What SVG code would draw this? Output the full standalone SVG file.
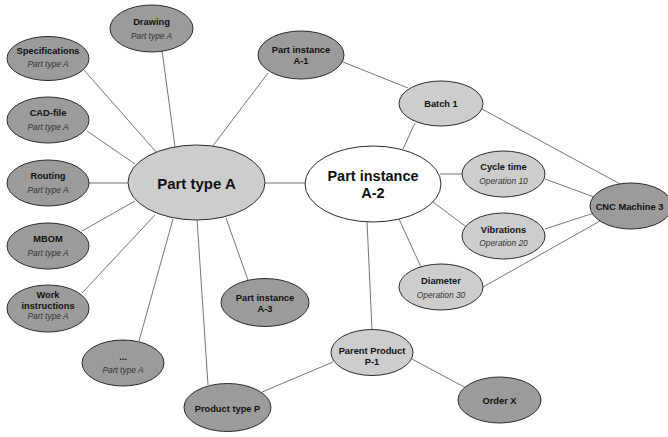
<svg xmlns="http://www.w3.org/2000/svg" width="668" height="437" viewBox="0 0 668 437">
<style>
.n{stroke:#2b2b2b;stroke-width:1}
.d{fill:#9b9b9b}
.l{fill:#cdcdcd}
.w{fill:#ffffff}
.t{font-family:"Liberation Sans",Arial,sans-serif;font-weight:bold;font-size:9.3px;fill:#111;text-anchor:middle}
.s{font-family:"Liberation Sans",Arial,sans-serif;font-style:italic;font-size:8.4px;fill:#333;text-anchor:middle}
.b{font-family:"Liberation Sans",Arial,sans-serif;font-weight:bold;font-size:15px;fill:#111;text-anchor:middle}
#edges line{stroke:#474747;stroke-width:0.75}
</style>
<rect width="668" height="437" fill="#ffffff"/>
<g id="edges">
<line x1="162" y1="50" x2="175" y2="147"/>
<line x1="83" y1="69" x2="157" y2="153"/>
<line x1="87" y1="131" x2="135" y2="164"/>
<line x1="89" y1="183" x2="129" y2="183"/>
<line x1="82" y1="231" x2="135" y2="201"/>
<line x1="82" y1="293" x2="155" y2="215"/>
<line x1="139" y1="341" x2="173" y2="219"/>
<line x1="208" y1="385" x2="197" y2="219"/>
<line x1="248" y1="280" x2="226" y2="218"/>
<line x1="268" y1="73" x2="212" y2="147"/>
<line x1="264" y1="183" x2="306" y2="183"/>
<line x1="343" y1="62" x2="408" y2="88"/>
<line x1="415" y1="123" x2="403" y2="149"/>
<line x1="482" y1="109" x2="620" y2="184"/>
<line x1="440" y1="174" x2="463" y2="174"/>
<line x1="545" y1="179" x2="594" y2="197"/>
<line x1="433" y1="202" x2="465" y2="226"/>
<line x1="545" y1="229" x2="597" y2="212"/>
<line x1="399" y1="219" x2="421" y2="267"/>
<line x1="483" y1="287" x2="600" y2="221"/>
<line x1="367" y1="221" x2="372" y2="330"/>
<line x1="333" y1="362" x2="262" y2="392"/>
<line x1="412" y1="359" x2="466" y2="388"/>
</g>
<g id="drawing"><ellipse class="n d" cx="151.5" cy="28.5" rx="41.5" ry="23.5"/><text class="t" x="151.5" y="25">Drawing</text><text class="s" x="151.5" y="39">Part type A</text></g>
<g id="specifications"><ellipse class="n d" cx="48" cy="58.5" rx="41" ry="22"/><text class="t" x="48" y="54.3">Specifications</text><text class="s" x="48" y="67">Part type A</text></g>
<g id="cad-file"><ellipse class="n d" cx="48" cy="120" rx="41" ry="23"/><text class="t" x="48" y="116.3">CAD-file</text><text class="s" x="48" y="130">Part type A</text></g>
<g id="routing"><ellipse class="n d" cx="48" cy="183" rx="41" ry="23"/><text class="t" x="48" y="179.3">Routing</text><text class="s" x="48" y="193">Part type A</text></g>
<g id="mbom"><ellipse class="n d" cx="48" cy="246" rx="41" ry="23"/><text class="t" x="48" y="242.3">MBOM</text><text class="s" x="48" y="256">Part type A</text></g>
<g id="work-instructions"><ellipse class="n d" cx="48" cy="308.5" rx="41" ry="23.5"/><text class="t" x="48" y="298.3">Work</text><text class="t" x="48" y="309">instructions</text><text class="s" x="48" y="319">Part type A</text></g>
<g id="more"><ellipse class="n d" cx="123" cy="363" rx="41" ry="23"/><text class="t" x="123" y="360">...</text><text class="s" x="123" y="373">Part type A</text></g>
<g id="part-type-a"><ellipse class="n l" cx="196.5" cy="182.5" rx="68.5" ry="37.5"/><text class="b" x="196.5" y="188.5">Part type A</text></g>
<g id="part-instance-a1"><ellipse class="n d" cx="301" cy="55" rx="43" ry="24"/><text class="t" x="301" y="53.3">Part instance</text><text class="t" x="301" y="64.3">A-1</text></g>
<g id="part-instance-a3"><ellipse class="n d" cx="265" cy="302.5" rx="44" ry="24"/><text class="t" x="265" y="300.6">Part instance</text><text class="t" x="265" y="311.6">A-3</text></g>
<g id="product-type-p"><ellipse class="n d" cx="227.5" cy="407.5" rx="43.5" ry="24"/><text class="t" x="227.5" y="411.6">Product type P</text></g>
<g id="batch-1"><ellipse class="n l" cx="441" cy="103.5" rx="42" ry="22.5"/><text class="t" x="441" y="106.6">Batch 1</text></g>
<g id="part-instance-a2"><ellipse class="n w" cx="373" cy="184" rx="68" ry="38"/><text class="b" x="373" y="181" style="font-size:14.5px">Part instance</text><text class="b" x="373" y="197.6" style="font-size:14.5px">A-2</text></g>
<g id="cycle-time"><ellipse class="n l" cx="503.5" cy="174" rx="41.5" ry="23"/><text class="t" x="503.5" y="170.3">Cycle time</text><text class="s" x="503.5" y="184.3">Operation 10</text></g>
<g id="vibrations"><ellipse class="n l" cx="503.5" cy="236" rx="41.5" ry="23"/><text class="t" x="503.5" y="232.6">Vibrations</text><text class="s" x="503.5" y="246.3">Operation 20</text></g>
<g id="diameter"><ellipse class="n l" cx="441" cy="287" rx="42" ry="23"/><text class="t" x="441" y="284">Diameter</text><text class="s" x="441" y="297.7">Operation 30</text></g>
<g id="cnc-machine-3"><ellipse class="n d" cx="631" cy="206" rx="41" ry="23"/><text class="t" x="629.5" y="210.3">CNC Machine 3</text></g>
<g id="parent-product-p1"><ellipse class="n l" cx="372" cy="352.5" rx="41" ry="23"/><text class="t" x="372" y="354">Parent Product</text><text class="t" x="372" y="365">P-1</text></g>
<g id="order-x"><ellipse class="n d" cx="499.5" cy="400" rx="41.5" ry="23"/><text class="t" x="499.5" y="404">Order X</text></g>
</svg>
